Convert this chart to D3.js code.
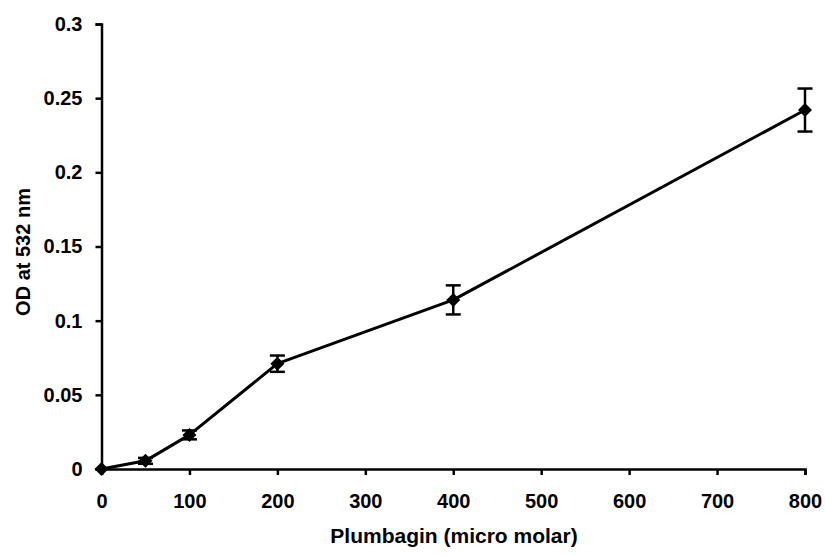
<!DOCTYPE html>
<meta charset="utf-8">
<style>
body, html {
    margin: 0;
    padding: 0;
    background: #fff;
    overflow: hidden;
}
text {
    font-family: "Liberation Sans", Arial, sans-serif;
    font-weight: bold;
    fill: #000;
}
.axis path, .axis line {
    stroke: #000;
    stroke-width: 2.5px;
}
</style>
<svg width="825" height="555"></svg>
<script src="https://d3js.org/d3.v7.min.js"></script>
<script>

var conc = [0, 50, 100, 200, 400, 800],
    od = [0, 0.0055, 0.023, 0.071, 0.114, 0.242],
    err = [0, 0.002, 0.003, 0.0055, 0.0098, 0.0145];

var xTicks = [0, 100, 200, 300, 400, 500, 600, 700, 800],
    yTicks = [0, 0.05, 0.1, 0.15, 0.2, 0.25, 0.3];

var svg = d3.select("svg");

var x = d3.scaleLinear().domain([0, 800]).range([101.5, 805]),
    y = d3.scaleLinear().domain([0, 0.3]).range([469, 24]);

// axes
svg.append("g")
    .attr("class", "axis")
    .attr("transform", "translate(0," + y(0) + ")")
    .call(d3.axisBottom(x).tickValues(xTicks).tickSize(6).tickSizeOuter(6).tickPadding(19)
        .tickFormat(d3.format("d")));

svg.append("g")
    .attr("class", "axis")
    .attr("transform", "translate(" + x(0) + ",0)")
    .call(d3.axisLeft(y).tickValues(yTicks).tickSize(6).tickSizeOuter(6).tickPadding(13)
        .tickFormat(function(d) { return d === 0 ? "0" : String(+d.toFixed(2)); }));

svg.selectAll(".axis text").style("font-size", "20px").attr("fill", "#000");

// axis titles
svg.append("text")
    .attr("x", 454)
    .attr("y", 543)
    .attr("text-anchor", "middle")
    .style("font-size", "21px")
    .text("Plumbagin (micro molar)");

svg.append("text")
    .attr("transform", "translate(30,252) rotate(-90)")
    .attr("text-anchor", "middle")
    .style("font-size", "20px")
    .text("OD at 532 nm");

// data line
var pts = conc.map(function(c, i) { return [c, od[i], err[i]]; });

var line = d3.line()
    .x(function(d) { return x(d[0]); })
    .y(function(d) { return y(d[1]); });

svg.append("path")
    .datum(pts)
    .attr("d", line)
    .attr("fill", "none")
    .attr("stroke", "#000")
    .attr("stroke-width", 3)
    .attr("stroke-linejoin", "round");

// error bars
var eb = svg.selectAll(".err")
    .data(pts.filter(function(d) { return d[2] > 0; }))
    .enter().append("g")
    .attr("class", "err")
    .attr("stroke", "#000")
    .attr("stroke-width", 2.5);

eb.append("line")
    .attr("x1", function(d) { return x(d[0]); })
    .attr("x2", function(d) { return x(d[0]); })
    .attr("y1", function(d) { return y(d[1] - d[2]); })
    .attr("y2", function(d) { return y(d[1] + d[2]); });

[1, -1].forEach(function(s) {
    eb.append("line")
        .attr("x1", function(d) { return x(d[0]) - 7.5; })
        .attr("x2", function(d) { return x(d[0]) + 7.5; })
        .attr("y1", function(d) { return y(d[1] + s * d[2]); })
        .attr("y2", function(d) { return y(d[1] + s * d[2]); });
});

// markers
svg.selectAll(".mk")
    .data(pts)
    .enter().append("path")
    .attr("class", "mk")
    .attr("d", d3.symbol().type(d3.symbolDiamond2).size(125))
    .attr("transform", function(d) { return "translate(" + x(d[0]) + "," + y(d[1]) + ")"; })
    .attr("fill", "#000");

</script>
